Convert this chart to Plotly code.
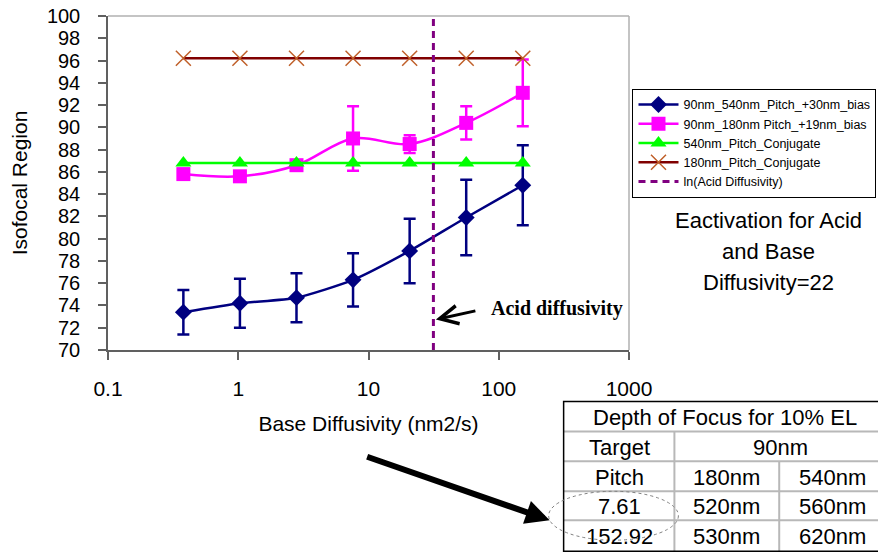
import plotly.graph_objects as go

# ---------------- data ----------------
base_diffusivity = [0.379, 1.03, 2.80, 7.61, 20.70, 56.26, 152.92]

s_540_bias = [73.4, 74.2, 74.7, 76.3, 78.9, 81.9, 84.8]
s_540_bias_err = [2.0, 2.2, 2.2, 2.4, 2.9, 3.4, 3.6]

s_180_bias = [85.8, 85.6, 86.6, 89.0, 88.5, 90.4, 93.1]
s_180_bias_err = [0.0, 0.0, 0.0, 2.9, 0.8, 1.5, 3.0]

s_540_conj = [86.8, 86.8, 86.8, 86.8, 86.8, 86.8, 86.8]
s_180_conj = [96.2, 96.2, 96.2, 96.2, 96.2, 96.2, 96.2]

acid_diffusivity = 31.5

names = ["90nm_540nm_Pitch_+30nm_bias", "90nm_180nm Pitch_+19nm_bias",
         "540nm_Pitch_Conjugate", "180nm_Pitch_Conjugate", "ln(Acid Diffusivity)"]

x_tickvals = [0.1, 1, 10, 100, 1000]
x_ticktext = ["0.1", "1", "10", "100", "1000"]

table_title = "Depth of Focus for 10% EL"
table_target = ["Target", "90nm"]
table_pitch = ["Pitch", "180nm", "540nm"]
table_rows = [["7.61", "520nm", "560nm"],
              ["152.92", "530nm", "620nm"]]

side_note = ["Eactivation for Acid", "and Base", "Diffusivity=22"]

# ---------------- layout helpers ----------------
OFF = 8  # page body margin
W, H = 886 - OFF, 555 - OFF
# plot area in window pixels
L, R, T, B = 107.5, 629.5, 16, 350.5
FONT = "Liberation Sans, Arial, sans-serif"


def px(x):
    return (x - L) / (R - L)


def py(y):
    return (B - y) / (B - T)


fig = go.Figure()

fig.add_trace(go.Scatter(
    x=base_diffusivity, y=s_540_bias, name=names[0], mode="lines+markers",
    line=dict(color="#000080", width=2.5, shape="spline", smoothing=0.6),
    marker=dict(symbol="diamond", size=13, color="#000080"),
    error_y=dict(type="data", array=s_540_bias_err, color="#000080", thickness=2.5, width=6)))

fig.add_trace(go.Scatter(
    x=base_diffusivity, y=s_180_bias, name=names[1], mode="lines+markers",
    line=dict(color="#FF00FF", width=2.5, shape="spline", smoothing=1),
    marker=dict(symbol="square", size=14, color="#FF00FF"),
    error_y=dict(type="data", array=s_180_bias_err, color="#FF00FF", thickness=2.5, width=6)))

fig.add_trace(go.Scatter(
    x=base_diffusivity, y=s_540_conj, name=names[2], mode="lines+markers",
    line=dict(color="#00FF00", width=2.5),
    marker=dict(symbol="triangle-up", size=14, color="#00FF00")))

fig.add_trace(go.Scatter(
    x=base_diffusivity, y=s_180_conj, name=names[3], mode="lines+markers",
    line=dict(color="#800000", width=2.5),
    marker=dict(symbol="x-thin", size=15, color="#C0602A",
                line=dict(width=1.5, color="#C0602A"))))

fig.add_trace(go.Scatter(
    x=[acid_diffusivity, acid_diffusivity], y=[70, 100], name=names[4], mode="lines",
    line=dict(color="#800080", width=3, dash="7px,5px")))

fig.update_xaxes(
    type="log", range=[-1, 3], tickvals=x_tickvals, ticktext=x_ticktext,
    showgrid=False, zeroline=False, showline=True, linecolor="#606060", linewidth=1.5,
    ticks="outside", ticklen=8, tickcolor="#606060", tickwidth=1.5,
    ticklabelstandoff=11, ticklabeloverflow="allow",
    tickfont=dict(family=FONT, size=21, color="#000000"),
    title=dict(text="Base Diffusivity (nm2/s)", font=dict(family=FONT, size=21, color="#000000"),
               standoff=17))

fig.update_yaxes(
    range=[70, 100], dtick=2, tick0=70,
    showgrid=False, zeroline=False, showline=True, linecolor="#606060", linewidth=1.5,
    ticks="outside", ticklen=8, tickcolor="#606060", tickwidth=1.5,
    ticklabelstandoff=14, ticklabeloverflow="allow",
    tickfont=dict(family=FONT, size=20, color="#000000"),
    title=dict(text="Isofocal Region", font=dict(family=FONT, size=21, color="#000000"),
               standoff=24))

shapes = []
# top and right frame (light grey)
shapes.append(dict(type="line", xref="paper", yref="paper", x0=0, x1=1, y0=1, y1=1,
                   line=dict(color="#B0B0B0", width=1.5)))
shapes.append(dict(type="line", xref="paper", yref="paper", x0=1, x1=1, y0=0, y1=1,
                   line=dict(color="#B0B0B0", width=1.5)))

# table grid
tx0, tx1 = 564, 887
ty = [402, 432, 462, 492, 521, 552]
cx = [675, 780]
for yy in ty[1:-1]:
    shapes.append(dict(type="line", xref="paper", yref="paper", x0=px(tx0), x1=px(tx1),
                       y0=py(yy), y1=py(yy), line=dict(color="#B8B8B8", width=2)))
shapes.append(dict(type="line", xref="paper", yref="paper", x0=px(cx[0]), x1=px(cx[0]),
                   y0=py(ty[1]), y1=py(ty[-1]), line=dict(color="#B8B8B8", width=2)))
shapes.append(dict(type="line", xref="paper", yref="paper", x0=px(cx[1]), x1=px(cx[1]),
                   y0=py(ty[2]), y1=py(ty[-1]), line=dict(color="#B8B8B8", width=2)))
shapes.append(dict(type="rect", xref="paper", yref="paper", x0=px(tx0), x1=px(tx1),
                   y0=py(ty[0]), y1=py(ty[-1]), line=dict(color="#000000", width=1.5)))
# dotted ellipse
shapes.append(dict(type="circle", xref="paper", yref="paper", x0=px(549), x1=px(679),
                   y0=py(492), y1=py(541), line=dict(color="#808080", width=1, dash="dot")))

annotations = []


def txt(s, x, y, size=22, family=FONT, weight="normal"):
    annotations.append(dict(text=s, xref="paper", yref="paper", x=px(x), y=py(y),
                            xanchor="center", yanchor="middle", showarrow=False,
                            font=dict(family=family, size=size, color="#000000", weight=weight)))


col_c = [(tx0 + cx[0]) / 2, (cx[0] + cx[1]) / 2, (cx[1] + tx1) / 2]
row_c = [(ty[i] + ty[i + 1]) / 2 + 1 for i in range(5)]
txt(table_title, (tx0 + tx1) / 2, row_c[0])
txt(table_target[0], col_c[0], row_c[1])
txt(table_target[1], (cx[0] + tx1) / 2, row_c[1])
for j, s in enumerate(table_pitch):
    txt(s, col_c[j], row_c[2])
for i, row in enumerate(table_rows):
    for j, s in enumerate(row):
        txt(s, col_c[j], row_c[3 + i])

for i, s in enumerate(side_note):
    txt(s, 769, 221 + 31 * i, size=22)

txt("Acid diffusivity", 557, 309, size=20, family="Liberation Serif, Times New Roman, serif",
    weight="bold")

# arrows
annotations.append(dict(text="", xref="paper", yref="paper", x=px(436), y=py(320),
                        ax=477 - 436, ay=311 - 320, showarrow=True, arrowhead=5,
                        arrowsize=1.2, arrowwidth=3, arrowcolor="#000000", standoff=0))
annotations.append(dict(text="", xref="paper", yref="paper", x=px(550), y=py(521),
                        ax=366 - 550, ay=457 - 521, showarrow=True, arrowhead=2,
                        arrowsize=0.8, arrowwidth=6, arrowcolor="#000000", standoff=0))

fig.update_layout(
    width=W, height=H,
    margin=dict(l=L - OFF, r=W - (R - OFF), t=T - OFF, b=H - (B - OFF), autoexpand=False),
    paper_bgcolor="#FFFFFF", plot_bgcolor="#FFFFFF",
    font=dict(family=FONT, color="#000000"),
    shapes=shapes, annotations=annotations,
    legend=dict(x=px(633), y=py(89), xanchor="left", yanchor="top",
                bordercolor="#000000", borderwidth=1, bgcolor="#FFFFFF",
                font=dict(family=FONT, size=12.5, color="#000000"),
                tracegroupgap=0, itemwidth=40),
    showlegend=True,
)

fig.write_html("out.html")
